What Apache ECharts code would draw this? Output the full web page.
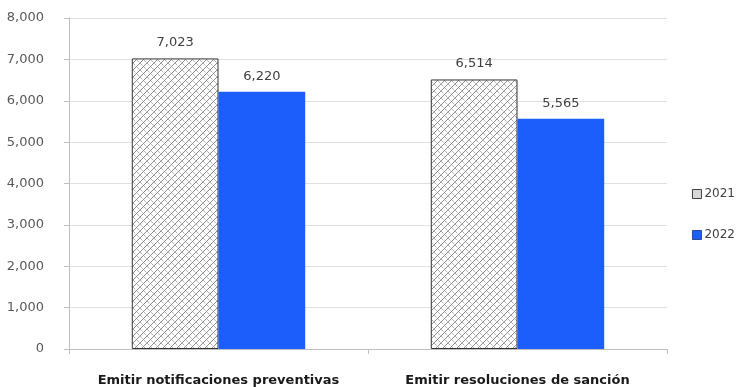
<!DOCTYPE html>
<html>
<head>
<meta charset="utf-8">
<script src="https://cdn.jsdelivr.net/npm/echarts@6/dist/echarts.min.js"></script>
<style>
  html, body { margin: 0; padding: 0; background: #fff; }
  #chart { width: 747px; height: 387px; }
</style>
</head>
<body>
<div id="chart"></div>
<script>
// Chart data
const categories = ['Emitir notificaciones preventivas', 'Emitir resoluciones de sanción'];
const seriesNames = ['2021', '2022'];
const values2021 = [7023, 6514];
const values2022 = [6220, 5565];
const yTicks = [0, 1000, 2000, 3000, 4000, 5000, 6000, 7000, 8000];

// Diagonal crosshatch tile used to fill the 2021 bars
function makeHatch() {
  const c = document.createElement('canvas');
  c.width = 7; c.height = 7;
  const g = c.getContext('2d');
  g.fillStyle = '#ffffff';
  g.fillRect(0, 0, 7, 7);
  g.strokeStyle = '#8c8c8c';
  g.lineWidth = 1;
  g.beginPath();
  // upward diagonals
  g.moveTo(-1, 8); g.lineTo(8, -1);
  g.moveTo(-4, 4); g.lineTo(4, -4);
  g.moveTo(3, 11); g.lineTo(11, 3);
  g.stroke();
  g.strokeStyle = '#b4b4b4';
  g.beginPath();
  // short back diagonals between them
  g.moveTo(0, 0); g.lineTo(2.5, 2.5);
  g.moveTo(4, 4); g.lineTo(6.5, 6.5);
  g.stroke();
  return c;
}

const hatch = { image: makeHatch(), repeat: 'repeat' };
const blue = '#1c5efb';
const fmt = v => v.toLocaleString('en-US');
const font = 'DejaVu Sans, Verdana, sans-serif';

const chart = echarts.init(document.getElementById('chart'));
chart.setOption({
  backgroundColor: '#ffffff',
  animation: false,
  grid: { left: 69, right: 80, top: 18, bottom: 38 },
  legend: {
    orient: 'vertical',
    right: 7,
    top: 183,
    itemWidth: 9,
    itemHeight: 9,
    itemGap: 29,
    textStyle: { fontFamily: font, fontSize: 12, color: '#404040', padding: [0, 0, 0, -2] },
    data: [
      { name: seriesNames[0], icon: 'rect', itemStyle: { color: '#d8d8d8', borderColor: '#404040', borderWidth: 1 } },
      { name: seriesNames[1], icon: 'rect', itemStyle: { color: blue, borderColor: '#2a4a9a', borderWidth: 1 } }
    ]
  },
  xAxis: {
    type: 'category',
    data: categories,
    axisLine: { show: true, lineStyle: { color: '#bfbfbf' } },
    axisTick: { show: true, length: 5, alignWithLabel: false, lineStyle: { color: '#bfbfbf' } },
    axisLabel: {
      interval: 0,
      fontFamily: font,
      fontWeight: 'bold',
      fontSize: 13,
      color: '#1a1a1a',
      margin: 25
    }
  },
  yAxis: {
    type: 'value',
    min: yTicks[0],
    max: yTicks[yTicks.length - 1],
    interval: 1000,
    axisLine: { show: true, lineStyle: { color: '#bfbfbf' } },
    axisTick: { show: true, length: 5, lineStyle: { color: '#bfbfbf' } },
    splitLine: { lineStyle: { color: '#e0e0e0' } },
    axisLabel: {
      fontFamily: font,
      fontSize: 13,
      color: '#595959',
      margin: 25,
      formatter: v => fmt(v)
    }
  },
  series: [
    {
      name: seriesNames[0],
      type: 'bar',
      data: values2021,
      barGap: '0%',
      barCategoryGap: '42%',
      itemStyle: { color: hatch, borderColor: '#333333', borderWidth: 1 },
      label: {
        show: true, position: 'top', distance: 9,
        fontFamily: font, fontSize: 13, color: '#404040',
        formatter: p => fmt(p.value)
      }
    },
    {
      name: seriesNames[1],
      type: 'bar',
      data: values2022,
      itemStyle: { color: blue },
      label: {
        show: true, position: 'top', distance: 9,
        fontFamily: font, fontSize: 13, color: '#404040',
        formatter: p => fmt(p.value)
      }
    }
  ]
});
</script>
</body>
</html>
